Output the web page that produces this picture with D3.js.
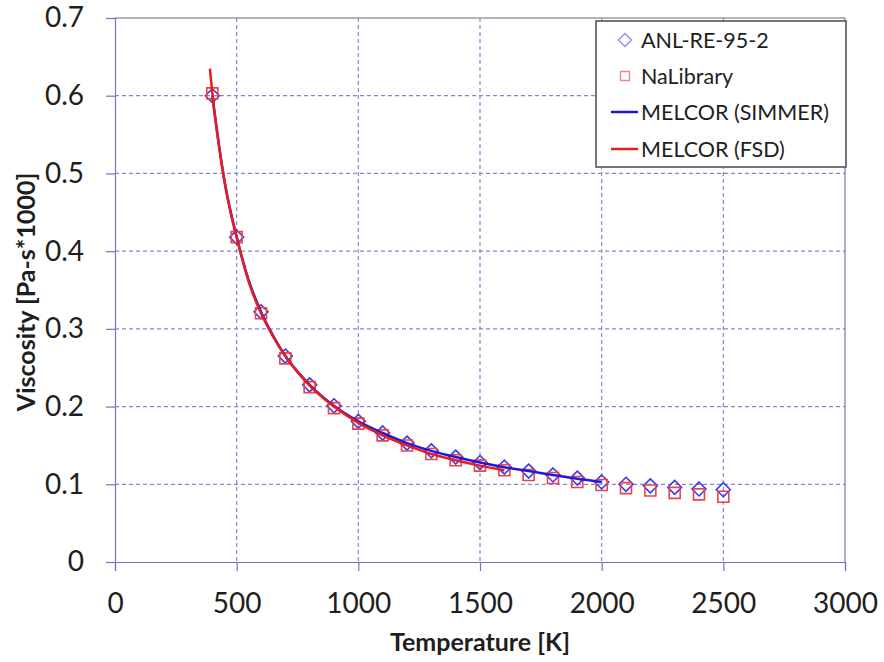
<!DOCTYPE html>
<html><head><meta charset="utf-8">
<script src="https://cdn.jsdelivr.net/npm/d3@7"></script>
<style>body{margin:0;background:#fff}svg{display:block}text{font-family:Lato,"Open Sans",sans-serif;fill:#1e1e1e}</style>
</head><body><svg id="c" width="884" height="662"></svg>
<script>
// ---- data ----
const xTicks = [0, 500, 1000, 1500, 2000, 2500, 3000];
const yTicks = [0, 0.1, 0.2, 0.3, 0.4, 0.5, 0.6, 0.7];
const markerT = [400,500,600,700,800,900,1000,1100,1200,1300,1400,1500,1600,1700,1800,1900,2000,2100,2200,2300,2400,2500];
const anlValues = [0.600,0.418,0.322,0.265,0.228,0.201,0.181,0.166,0.153,0.143,0.135,0.128,0.122,0.117,0.112,0.108,0.103,0.100,0.098,0.096,0.094,0.093];
const naLibValues = [0.603,0.418,0.320,0.262,0.225,0.198,0.178,0.163,0.150,0.139,0.131,0.124,0.118,0.112,0.108,0.103,0.099,0.095,0.092,0.089,0.087,0.084];
const simmerT = [400,450,500,550,600,650,700,800,900,1000,1100,1200,1300,1400,1500,1600,1700,1800,1900,2000];
const simmerValues = [0.600,0.490,0.418,0.362,0.322,0.291,0.265,0.228,0.201,0.181,0.166,0.153,0.143,0.135,0.128,0.122,0.117,0.112,0.107,0.103];
const fsdT = [390,400,425,450,475,500,550,600,650,700,800,900,1000,1100,1200,1300,1400,1500,1600];
const fsdValues = [0.635,0.603,0.540,0.490,0.450,0.418,0.360,0.320,0.290,0.265,0.227,0.200,0.179,0.163,0.150,0.139,0.131,0.124,0.118];
const legendLabels = ["ANL-RE-95-2","NaLibrary","MELCOR (SIMMER)","MELCOR (FSD)"];

const svg = d3.select("#c");
const L = 115, R = 845, T = 18, B = 562;
const x = d3.scaleLinear().domain([0,3000]).range([L,R]);
const y = d3.scaleLinear().domain([0,0.7]).range([B,T]);
const axisCol = "#7373c4", gridCol = "#8585d6";

// grid
svg.append("g").selectAll("line").data(xTicks.filter(d=>d>0&&d<3000)).join("line")
  .attr("x1",d=>x(d)).attr("x2",d=>x(d)).attr("y1",T).attr("y2",B)
  .attr("stroke",gridCol).attr("stroke-width",1.2).attr("stroke-dasharray","4,3");
svg.append("g").selectAll("line").data(yTicks.filter(d=>d>0&&d<0.7)).join("line")
  .attr("y1",d=>y(d)).attr("y2",d=>y(d)).attr("x1",L).attr("x2",R)
  .attr("stroke",gridCol).attr("stroke-width",1.2).attr("stroke-dasharray","4,3");
// frame top & right
svg.append("line").attr("x1",L).attr("x2",R).attr("y1",T).attr("y2",T).attr("stroke","#9a9aa8").attr("stroke-width",1.5);
svg.append("line").attr("x1",R).attr("x2",R).attr("y1",T).attr("y2",B).attr("stroke",axisCol).attr("stroke-width",1.2);

// axes
const xAxis = svg.append("g").attr("transform",`translate(0,${B})`)
  .call(d3.axisBottom(x).tickValues(xTicks).tickSize(9).tickPadding(22).tickFormat(d3.format("d")));
const yAxis = svg.append("g").attr("transform",`translate(${L},0)`)
  .call(d3.axisLeft(y).tickValues(yTicks).tickSize(9).tickPadding(22).tickFormat(d=>d===0?"0":d3.format(".1f")(d)));
[xAxis,yAxis].forEach(g=>{
  g.select(".domain").attr("stroke",axisCol).attr("stroke-width",1.2);
  g.selectAll(".tick line").attr("stroke",axisCol).attr("stroke-width",1.2);
  g.selectAll(".tick text").attr("font-size",28).attr("fill","#1e1e1e").style("font-family","Lato");
});

// titles
svg.append("text").attr("x",(L+R)/2).attr("y",651).attr("text-anchor","middle")
  .attr("font-size",25).attr("font-weight","bold").text("Temperature [K]");
svg.append("text").attr("transform",`translate(35,292) rotate(-90)`).attr("text-anchor","middle")
  .attr("font-size",25).attr("font-weight","bold").text("Viscosity [Pa-s*1000]");

// markers
const diamond = s => `M0,${-s}L${s},0L0,${s}L${-s},0Z`;
const square = s => `M${-s},${-s}H${s}V${s}H${-s}Z`;
const g = svg.append("g");
g.selectAll(".dia").data(markerT.map((t,i)=>[t,anlValues[i]])).join("path")
  .attr("d",diamond(7)).attr("transform",d=>`translate(${x(d[0])},${y(d[1])})`)
  .attr("fill","none").attr("stroke","#3b3bea").attr("stroke-width",1.6);
g.selectAll(".sq").data(markerT.map((t,i)=>[t,naLibValues[i]])).join("path")
  .attr("d",square(5.5)).attr("transform",d=>`translate(${x(d[0])},${y(d[1])})`)
  .attr("fill","none").attr("stroke","#ec4444").attr("stroke-width",1.6);

// lines
const line = d3.line().x(d=>x(d[0])).y(d=>y(d[1])).curve(d3.curveMonotoneX);
svg.append("path").datum(simmerT.map((t,i)=>[t,simmerValues[i]])).attr("d",line)
  .attr("fill","none").attr("stroke","#1a1ae0").attr("stroke-width",2.5);
svg.append("path").datum(fsdT.map((t,i)=>[t,fsdValues[i]])).attr("d",line)
  .attr("fill","none").attr("stroke","#e81c1c").attr("stroke-width",2.5);

// legend
const lg = svg.append("g");
lg.append("rect").attr("x",596).attr("y",21).attr("width",250).attr("height",146)
  .attr("fill","#fff").attr("stroke","#555").attr("stroke-width",1.6);
const rowsY = [40,76,112,149];
legendLabels.forEach((lab,i)=>{
  const cy = rowsY[i];
  if(i===0) lg.append("path").attr("d",diamond(6.5)).attr("transform",`translate(625,${cy})`)
    .attr("fill","none").attr("stroke","#8f8fe6").attr("stroke-width",1.4);
  if(i===1) lg.append("path").attr("d",square(4.5)).attr("transform",`translate(625,${cy})`)
    .attr("fill","none").attr("stroke","#e88a8a").attr("stroke-width",1.4);
  if(i===2) lg.append("line").attr("x1",611).attr("x2",638).attr("y1",cy).attr("y2",cy).attr("stroke","#1a1ae0").attr("stroke-width",2.5);
  if(i===3) lg.append("line").attr("x1",611).attr("x2",638).attr("y1",cy).attr("y2",cy).attr("stroke","#e81c1c").attr("stroke-width",2.5);
  lg.append("text").attr("x",641).attr("y",cy).attr("dy","0.36em").attr("font-size",21.5).text(lab);
});
</script></body></html>
